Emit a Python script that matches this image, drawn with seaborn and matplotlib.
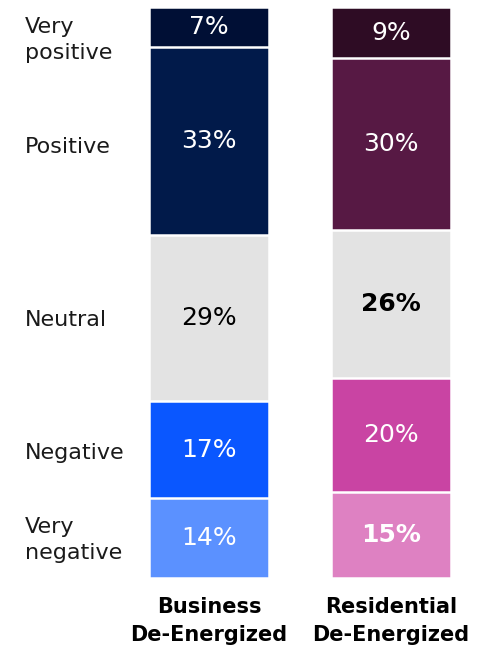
import matplotlib
matplotlib.use("Agg")
import matplotlib.pyplot as plt
import matplotlib.transforms as mtransforms
import seaborn as sns
import pandas as pd
import numpy as np

# Survey answers, stacked top (very positive) to bottom (very negative)
groups = ["Business\nDe-Energized", "Residential\nDe-Energized"]
sentiments = ["Very positive", "Positive", "Neutral", "Negative", "Very negative"]
sentiment_labels = ["Very\npositive", "Positive", "Neutral", "Negative", "Very\nnegative"]
business = [7, 33, 29, 17, 14]
residential = [9, 30, 26, 20, 15]

business_colors = ["#000f35", "#011a4a", "#e3e3e3", "#0a57ff", "#5b91ff"]
residential_colors = ["#2e0c24", "#571944", "#e3e3e3", "#c944a3", "#de81c2"]
business_text = [("white", "normal"), ("white", "normal"), ("black", "normal"),
                 ("white", "normal"), ("white", "normal")]
residential_text = [("white", "normal"), ("white", "normal"), ("black", "bold"),
                    ("white", "normal"), ("white", "bold")]

# Vertical placement of the row captions on the left (percent scale)
caption_y = [5.8, 24.5, 54.8, 78.1, 93.3]

sns.set_theme(style="white")
plt.rcParams["font.family"] = ["DejaVu Sans"]

rows = []
for grp, vals in zip(groups, [business, residential]):
    cum = np.cumsum(vals)
    for s, v, c in zip(sentiments, vals, cum):
        rows.append({"group": grp, "sentiment": s, "value": v,
                     "cum": c, "mid": c - v / 2})
df = pd.DataFrame(rows)

fig = plt.figure(figsize=(4.83, 6.5), dpi=100)
ax = fig.add_axes([0, 72 / 650, 1, 571 / 650])

# Stacked bars: draw cumulative totals, widest first, so each layer shows one segment
for i in reversed(range(len(sentiments))):
    sub = df[df["sentiment"] == sentiments[i]]
    sns.barplot(data=sub, x="group", y="cum", hue="group", order=groups,
                hue_order=groups,
                palette={groups[0]: business_colors[i], groups[1]: residential_colors[i]},
                dodge=False, width=0.662, saturation=1, errorbar=None,
                edgecolor="white", linewidth=1.8, legend=False, ax=ax)

# Percent labels inside the segments
for gi, (grp, styles) in enumerate(zip(groups, [business_text, residential_text])):
    sub = df[df["group"] == grp].reset_index(drop=True)
    for j, r in sub.iterrows():
        col, wt = styles[j]
        ax.text(gi, r["mid"], f"{r['value']}%", ha="center", va="center",
                color=col, fontweight=wt, fontsize=18)

# Row captions at the left edge
trans = mtransforms.blended_transform_factory(ax.transAxes, ax.transData)
for lab, y in zip(sentiment_labels, caption_y):
    ax.text(25 / 483, y, lab, transform=trans, ha="left", va="center",
            fontsize=16, color="#1a1a1a", linespacing=1.4)

ax.set_ylim(100, 0)
ax.set_xlim(-209 / 182, (483 - 209) / 182)
ax.set_xticks([0, 1])
ax.set_xticklabels(groups, fontsize=15, fontweight="bold", color="black",
                   linespacing=1.5)
ax.tick_params(axis="x", length=0, pad=14)
ax.set_yticks([])
ax.set_xlabel("")
ax.set_ylabel("")
for sp in ax.spines.values():
    sp.set_visible(False)

fig.savefig("out.png", dpi=100, facecolor="white")
